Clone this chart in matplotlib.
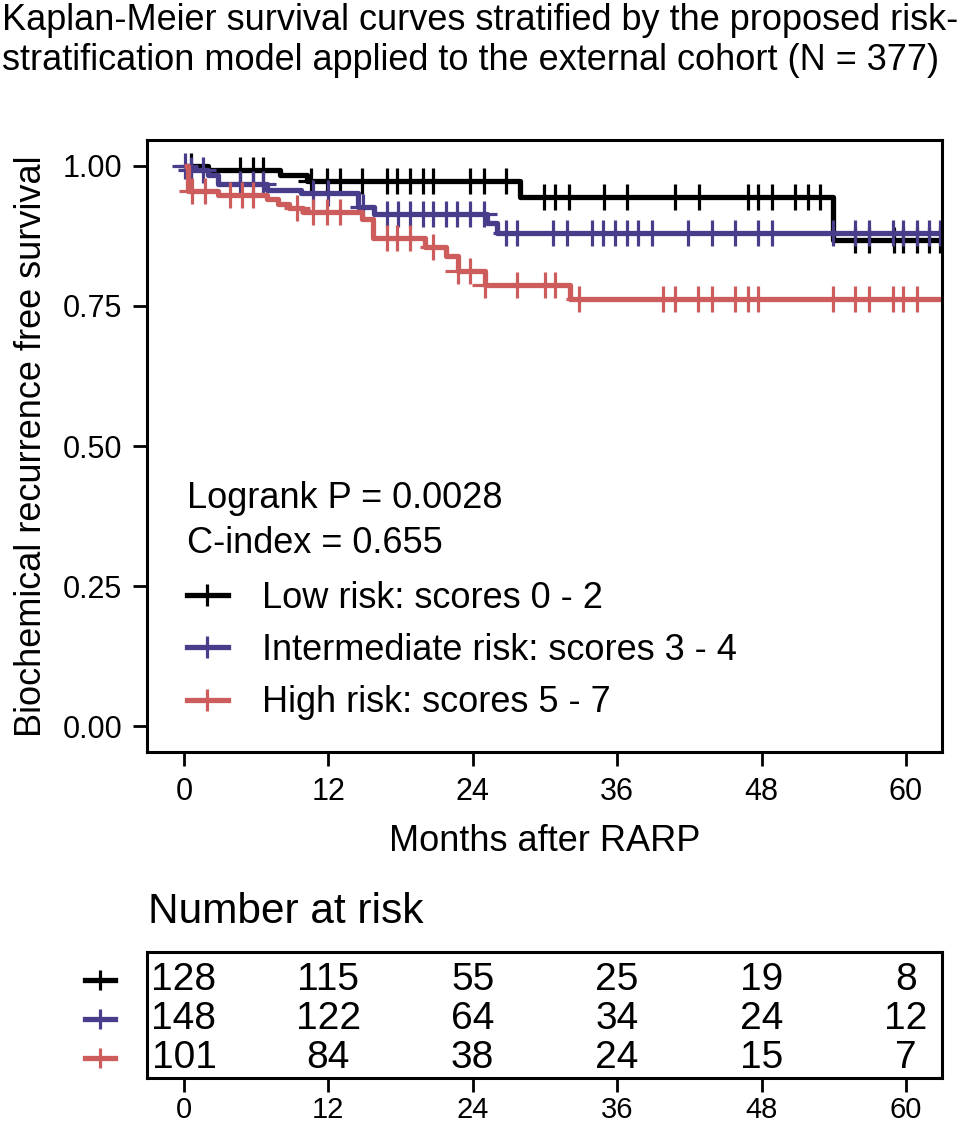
import numpy as np
import matplotlib
matplotlib.use("Agg")
import matplotlib.pyplot as plt
from matplotlib.lines import Line2D
from matplotlib.transforms import blended_transform_factory

plt.rcParams['font.family'] = ['Liberation Sans', 'DejaVu Sans']

# Kaplan-Meier step data (time in months, survival)
low_t = [0, 2.0, 8.0, 10.2, 27.9, 53.9]
low_s = [1.0, 0.993, 0.984, 0.973, 0.945, 0.868]
mid_t = [0, 0.3, 2.0, 2.8, 6.9, 9.7, 14.5, 15.8, 25.2, 26.0]
mid_s = [1.0, 0.993, 0.984, 0.968, 0.957, 0.952, 0.927, 0.915, 0.898, 0.880]
high_t = [0, 0.3, 2.8, 6.9, 7.8, 8.7, 9.9, 14.8, 15.7, 20.0, 21.8, 22.8, 25.0, 32.1]
high_s = [1.0, 0.955, 0.948, 0.941, 0.932, 0.925, 0.918, 0.906, 0.872, 0.855,
          0.839, 0.812, 0.787, 0.763]

# censoring times
low_cens = [0.6, 4.7, 5.7, 6.6, 10.6, 11.9, 13.0, 14.8, 16.9, 17.7, 18.8, 19.9,
            20.7, 23.8, 24.9, 26.8, 29.9, 30.8, 32.0, 34.9, 36.8, 40.8, 42.8,
            46.9, 47.7, 48.9, 50.8, 51.9, 52.9, 55.8, 56.9, 59.0, 59.8, 60.9,
            61.9, 62.8]
mid_cens = [0.1, 0.6, 1.6, 4.7, 5.7, 6.6, 10.7, 12.0, 14.9, 16.9, 17.8, 18.8,
            19.9, 20.7, 21.8, 22.7, 23.8, 24.9, 26.8, 27.7, 30.7, 31.8, 33.9,
            34.8, 35.8, 36.8, 37.7, 38.9, 41.9, 43.9, 45.8, 47.7, 48.9, 53.9,
            55.8, 56.9, 58.9, 59.8, 60.9, 61.9, 62.8]
high_cens = [0.65, 1.75, 3.8, 4.8, 5.7, 9.4, 10.7, 11.9, 13.0, 16.9, 17.7, 18.8,
             20.7, 22.8, 23.8, 25.0, 27.7, 30.0, 30.8, 32.8, 39.8, 40.8, 42.7,
             43.9, 45.8, 46.9, 47.7, 53.9, 55.8, 56.9, 58.9, 59.8, 60.9]

group_labels = ["Low risk: scores 0 - 2", "Intermediate risk: scores 3 - 4",
                "High risk: scores 5 - 7"]
colors = ["#000000", "#483D8B", "#CD5C5C"]

risk_times = [0, 12, 24, 36, 48, 60]
low_risk_n = [128, 115, 55, 25, 19, 8]
mid_risk_n = [148, 122, 64, 34, 24, 12]
high_risk_n = [101, 84, 38, 24, 15, 7]

x_max = 63.0

fig = plt.figure(figsize=(9.58, 11.25), dpi=100)
W, H = 958, 1125
ax = fig.add_axes([147 / W, 1 - 752 / H, 795 / W, 612 / H])


def step_value(times, surv, x):
    idx = np.searchsorted(times, x, side="right") - 1
    return np.asarray(surv)[idx]


curves = [(low_t, low_s, low_cens), (mid_t, mid_s, mid_cens),
          (high_t, high_s, high_cens)]
for (t, s, c), col in zip(curves, colors):
    tt = list(t) + [x_max]
    ss = list(s) + [s[-1]]
    ax.step(tt, ss, where="post", color=col, lw=3.8, solid_capstyle="butt")
    ax.plot(c, step_value(t, s, c), ls="none", marker="+", ms=19, mew=2.3,
            color=col)

ax.set_xlim(-3.07, 63.0)
ax.set_ylim(-0.0464, 1.0464)
ax.set_xticks(risk_times)
ax.set_yticks([0, 0.25, 0.5, 0.75, 1.0])
ax.set_yticklabels(["0.00", "0.25", "0.50", "0.75", "1.00"])
ax.tick_params(labelsize=22, width=2, length=10, pad=8)
for sp in ax.spines.values():
    sp.set_linewidth(2.2)

ax.set_xlabel("Months after RARP", fontsize=26, labelpad=12)
ax.set_ylabel("Biochemical recurrence free survival", fontsize=26)
ax.yaxis.set_label_coords(-0.123, 0.5)

ax.text(0.05, 0.415, "Logrank P = 0.0028", transform=ax.transAxes,
        fontsize=26, va="center", ha="left")
ax.text(0.05, 0.3415, "C-index = 0.655", transform=ax.transAxes,
        fontsize=26, va="center", ha="left")

handles = [Line2D([], [], color=col, lw=3.8, marker="+", ms=16, mew=2.3)
           for col in colors]
ax.legend(handles, group_labels, loc="upper left",
          bbox_to_anchor=(0.05, 0.280), frameon=False, fontsize=26,
          handlelength=1.14, handletextpad=0.94, labelspacing=0.48,
          borderpad=0, borderaxespad=0)

# title
fig.text(0.002, 1 - 3 / H, "Kaplan-Meier survival curves stratified by the proposed risk-\n"
         "stratification model applied to the external cohort (N = 377)",
         fontsize=26, va="top", ha="left", linespacing=1.2)

# number at risk table
fig.text(148 / W, 1 - 912 / H, "Number at risk", fontsize=30.5, va="center",
         ha="left")
ax_tab = fig.add_axes([147 / W, 1 - 1078 / H, 795 / W, 126 / H])
ax_tab.set_xlim(-3.07, 63.0)
ax_tab.set_ylim(-0.51, 2.72)
rows = [low_risk_n, mid_risk_n, high_risk_n]
for i, (vals, col) in enumerate(zip(rows, colors)):
    yrow = 2 - i
    for xt, v in zip(risk_times, vals):
        ax_tab.text(xt, yrow, str(v), fontsize=28, ha="center", va="center")
    trans = blended_transform_factory(ax_tab.transAxes, ax_tab.transData)
    ax_tab.plot([-0.078, -0.040], [yrow, yrow], color=col, lw=3.8,
                transform=trans, clip_on=False)
    ax_tab.plot([-0.059], [yrow], color=col, marker="+", ms=15, mew=2.3,
                transform=trans, clip_on=False)
ax_tab.set_xticks(risk_times)
ax_tab.set_yticks([])
ax_tab.tick_params(labelsize=21, width=2, length=10, pad=3)
for sp in ax_tab.spines.values():
    sp.set_linewidth(2.2)

fig.savefig("out.png", dpi=100)
